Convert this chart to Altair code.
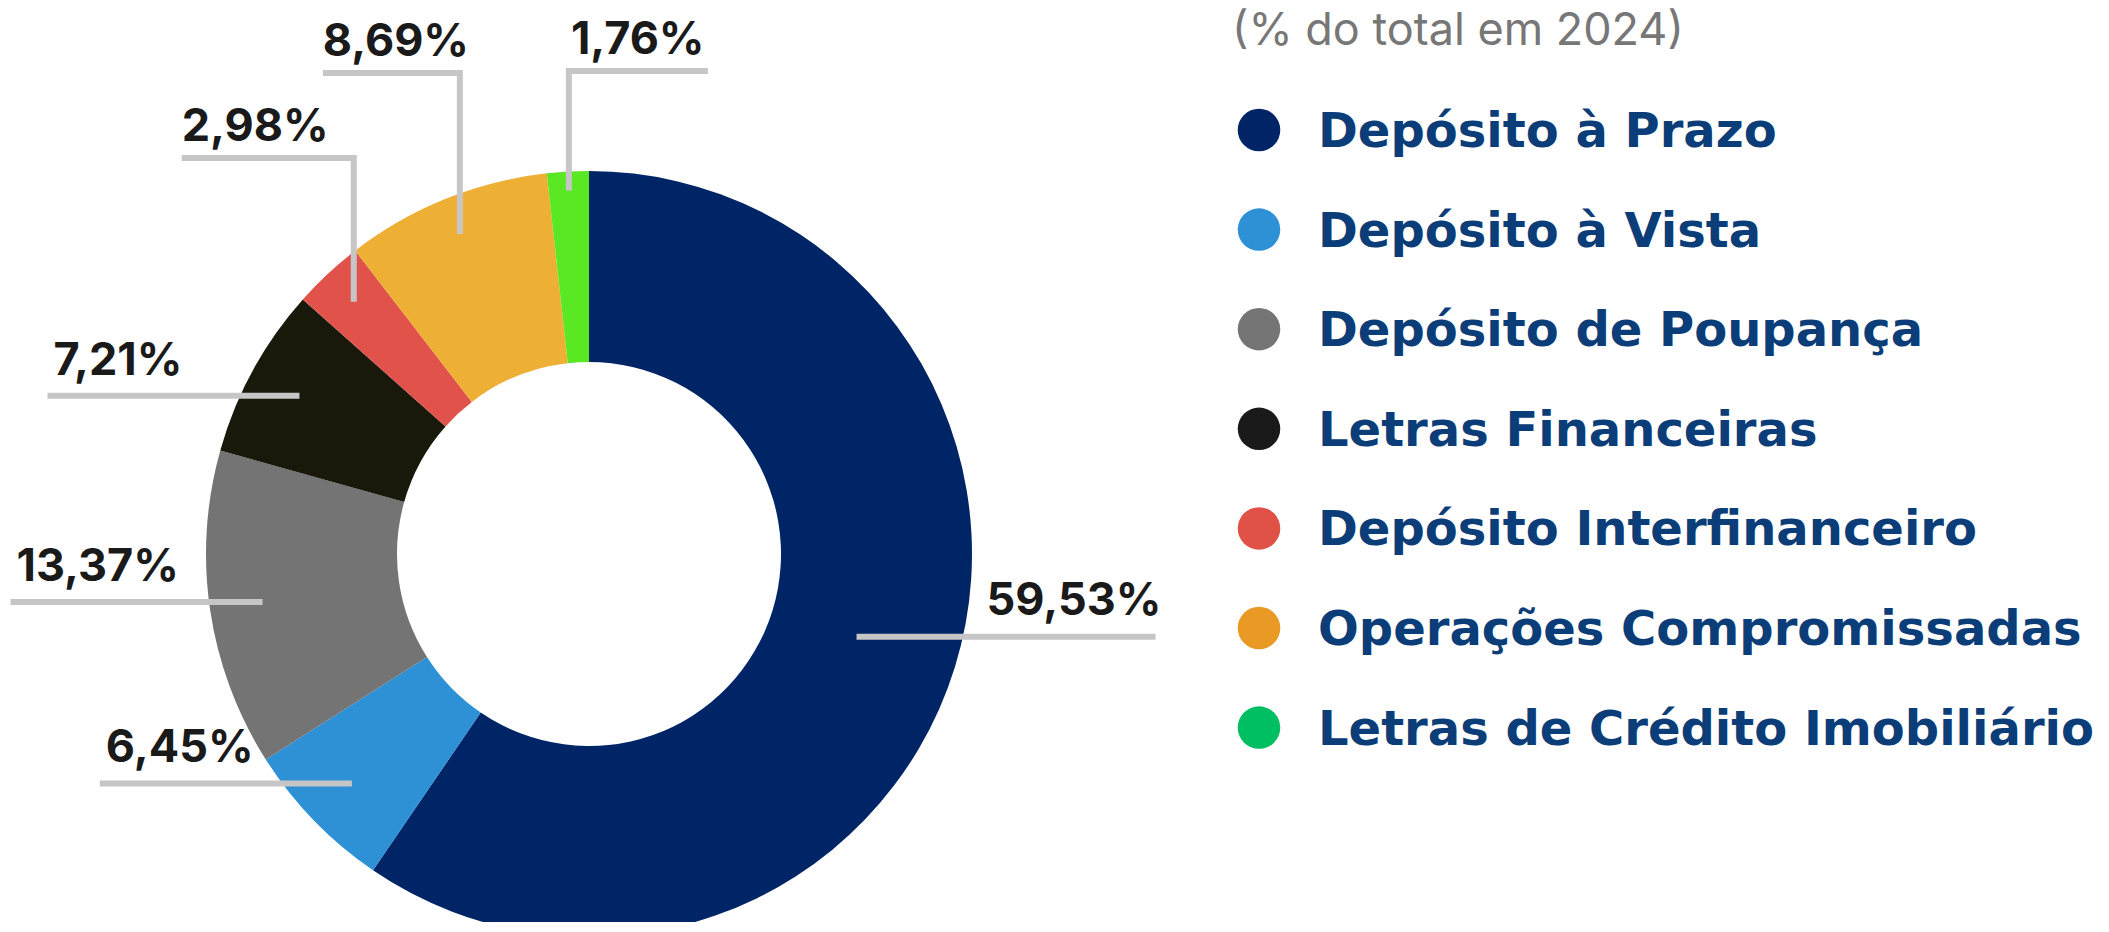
import altair as alt
import pandas as pd
import numpy as np

# ---------------- data ----------------
categories = [
    "Depósito à Prazo",
    "Depósito à Vista",
    "Depósito de Poupança",
    "Letras Financeiras",
    "Depósito Interfinanceiro",
    "Operações Compromissadas",
    "Letras de Crédito Imobiliário",
]
shares = [59.53, 6.45, 13.37, 7.21, 2.98, 8.69, 1.76]
labels = ["59,53%", "6,45%", "13,37%", "7,21%", "2,98%", "8,69%", "1,76%"]
subtitle = "(% do total em 2024)"

# ---------------- styles ----------------
slice_colors = ["#002566", "#2E91D6", "#747474", "#18190B", "#E0524A", "#EEAF35", "#5BE824"]
legend_colors = ["#002466", "#2E91D6", "#757575", "#1A1A1A", "#E05248", "#E89A24", "#00BF63"]
FONT = "Inter"
LEG_FONT = "DejaVu Sans"

OFF = 8                     # page margin
CX, CY = 589 - OFF, 554 - OFF
R_OUT, R_IN = 383, 192

leader_kind = ["right", "left", "left", "left", "up_left", "up_left", "up_right"]
leader_radius = [280, 330, 330, 330, 345, 345, 364]
leader_len = [299, 252, 252, 252, 172, 137, 139]
elbow_y = [0, 0, 0, 0, 158 - OFF, 73 - OFF, 71 - OFF]

LEG_X, LEG_Y0, LEG_STEP = 1259 - OFF, 130 - OFF, 99.6
LEG_TEXT_X = 1318 - OFF

# ---------------- derived tables ----------------
df = pd.DataFrame({"cat": categories, "share": shares, "label": labels, "idx": range(len(categories))})
frac = np.array(shares) / np.sum(shares)
end = np.cumsum(frac) * 2 * np.pi
start = end - frac * 2 * np.pi
mid = (start + end) / 2

line_rows, text_rows = [], []
for i, cat in enumerate(categories):
    r = leader_radius[i]
    ax = CX + r * np.sin(mid[i])
    ay = CY - r * np.cos(mid[i])
    L = leader_len[i]
    k = leader_kind[i]
    if k == "right":
        pts = [(ax, ay), (ax + L, ay)]
        txt = (ax + L + 6, ay - 22, "right")
    elif k == "left":
        pts = [(ax, ay), (ax - L, ay)]
        txt = (ax - L + 6, ay - 21, "left")
    elif k == "up_left":
        ey = elbow_y[i]
        pts = [(ax, ay), (ax, ey), (ax - L, ey)]
        txt = (ax - L, ey - 17, "left")
    else:
        ey = elbow_y[i]
        pts = [(ax, ay), (ax, ey), (ax + L, ey)]
        txt = (ax + 2, ey - 17, "left")
    for s, (px, py) in enumerate(pts):
        line_rows.append({"cat": cat, "step": s, "x": px, "y": py})
    text_rows.append({"cat": cat, "label": labels[i], "x": txt[0], "y": txt[1], "al": txt[2]})

lines_df = pd.DataFrame(line_rows)
text_df = pd.DataFrame(text_rows)

legend_df = pd.DataFrame({
    "cat": categories,
    "lcolor": legend_colors,
    "y": [LEG_Y0 + i * LEG_STEP for i in range(len(categories))],
})
legend_df["ty"] = legend_df["y"] + 17

title_df = pd.DataFrame({"t": [subtitle]})

# ---------------- chart ----------------
X = lambda f: alt.X(f, scale=None, axis=None)
Y = lambda f: alt.Y(f, scale=None, axis=None)

donut = alt.Chart(df).mark_arc(outerRadius=R_OUT, innerRadius=R_IN).encode(
    theta=alt.Theta("share:Q", stack=True),
    order=alt.Order("idx:Q"),
    color=alt.Color("cat:N", scale=alt.Scale(domain=categories, range=slice_colors), legend=None),
    x=alt.value(CX),
    y=alt.value(CY),
)

leaders = alt.Chart(lines_df).mark_line(
    color="#C6C6C6", strokeWidth=6, strokeCap="butt", strokeJoin="miter"
).encode(
    x=X("x:Q"), y=Y("y:Q"), detail="cat:N", order="step:Q"
)

lab_left = alt.Chart(text_df[text_df.al == "left"]).mark_text(
    align="left", baseline="alphabetic", font=FONT, fontWeight=700, fontSize=45, color="#1A1A1A"
).encode(x=X("x:Q"), y=Y("y:Q"), text="label:N")

lab_right = alt.Chart(text_df[text_df.al == "right"]).mark_text(
    align="right", baseline="alphabetic", font=FONT, fontWeight=700, fontSize=45, color="#1A1A1A"
).encode(x=X("x:Q"), y=Y("y:Q"), text="label:N")

leg_dots = alt.Chart(legend_df).mark_circle(size=1810, opacity=1).encode(
    x=alt.value(LEG_X), y=Y("y:Q"), fill=alt.Fill("lcolor:N", scale=None)
)

leg_text = alt.Chart(legend_df).mark_text(
    align="left", baseline="alphabetic", font=LEG_FONT, fontWeight="bold", fontSize=48, color="#0B3D78"
).encode(x=alt.value(LEG_TEXT_X), y=Y("ty:Q"), text="cat:N")

title = alt.Chart(title_df).mark_text(
    align="left", baseline="alphabetic", font=FONT, fontWeight=400, fontSize=45, color="#777777"
).encode(x=alt.value(1232 - OFF), y=alt.value(45 - OFF), text="t:N")

chart = alt.layer(donut, leaders, lab_left, lab_right, leg_dots, leg_text, title).properties(
    width=2093, height=914, padding=0, autosize="none"
).configure_view(stroke=None)

chart.save("out.html", embed_options={"renderer": "svg", "actions": False})
